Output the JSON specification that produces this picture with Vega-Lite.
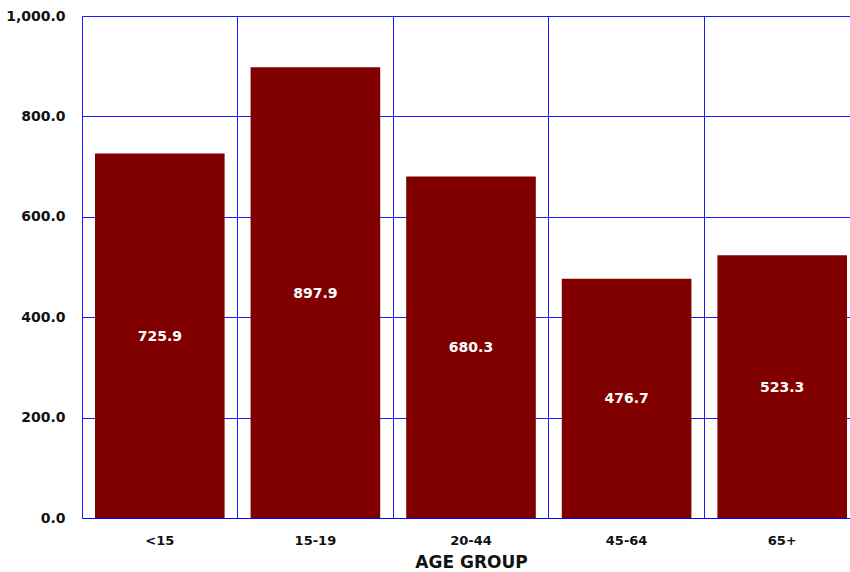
{
  "$schema": "https://vega.github.io/schema/vega-lite/v6.json",
  "width": 778,
  "height": 502,
  "autosize": {"type": "none"},
  "padding": {"left": 82, "top": 16, "right": 0, "bottom": 54},
  "background": "white",
  "config": {"view": {"stroke": null}, "font": "DejaVu Sans"},
  "data": {"values": [
    {"group": "<15", "rate": 725.9},
    {"group": "15-19", "rate": 897.9},
    {"group": "20-44", "rate": 680.3},
    {"group": "45-64", "rate": 476.7},
    {"group": "65+", "rate": 523.3}
  ]},
  "encoding": {
    "x": {
      "field": "group", "type": "nominal", "sort": null,
      "scale": {"paddingInner": 0, "paddingOuter": 0},
      "axis": {
        "title": "AGE GROUP", "labelAngle": 0, "bandPosition": 0,
        "grid": true, "gridColor": "#0000ff", "gridOpacity": 0.9, "gridWidth": 1,
        "domainColor": "#0000ff", "domainOpacity": 0.9, "ticks": false,
        "labelFont": "DejaVu Sans", "labelFontWeight": "bold", "labelFontSize": 13, "labelColor": "#111",
        "labelPadding": 16,
        "titleFont": "DejaVu Sans", "titleFontWeight": "bold", "titleFontSize": 17, "titleColor": "#111",
        "titlePadding": 7
      }
    }
  },
  "layer": [
    {
      "mark": {"type": "bar", "color": "#800000", "width": {"band": 0.833}},
      "encoding": {
        "y": {
          "field": "rate", "type": "quantitative",
          "scale": {"domain": [0, 1000], "nice": false},
          "axis": {
            "title": null, "values": [0, 200, 400, 600, 800, 1000], "format": ",.1f",
            "grid": true, "gridColor": "#0000ff", "gridOpacity": 0.9, "gridWidth": 1,
            "domain": false, "ticks": false,
            "labelFont": "DejaVu Sans", "labelFontWeight": "bold", "labelFontSize": 14, "labelColor": "#111",
            "labelPadding": 17
          }
        }
      }
    },
    {
      "mark": {"type": "text", "color": "white", "fontWeight": "bold", "fontSize": 14, "font": "DejaVu Sans", "baseline": "middle", "dy": 1},
      "transform": [{"calculate": "datum.rate / 2", "as": "mid"}],
      "encoding": {
        "y": {"field": "mid", "type": "quantitative"},
        "text": {"field": "rate", "type": "quantitative", "format": ".1f"}
      }
    }
  ]
}
